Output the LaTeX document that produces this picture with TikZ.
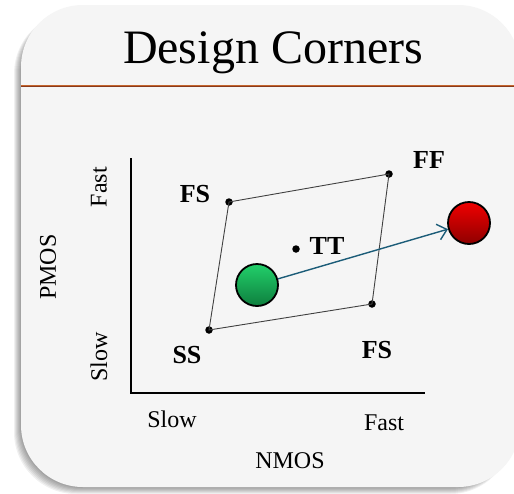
\documentclass[tikz,border=0pt]{standalone}
\usepackage{fontspec}
\setmainfont{Liberation Serif}
\usetikzlibrary{arrows.meta}
\definecolor{cardbg}{HTML}{F5F5F5}
\definecolor{rulecol}{HTML}{C4662E}
\definecolor{rulecore}{HTML}{8A3A1C}
\definecolor{arrowcol}{HTML}{1B5C78}
\definecolor{greentop}{HTML}{22D06A}
\definecolor{greenbot}{HTML}{0E7E3E}
\definecolor{redtop}{HTML}{F00000}
\definecolor{redbot}{HTML}{8E0000}
\tikzset{
  axis/.style={line width=2pt, black},
  edge/.style={line width=0.9pt, black!75},
  corner/.style={circle, fill=black, inner sep=0pt, minimum size=7.5pt},
  clabel/.style={font=\fontsize{26}{28}\selectfont\bfseries, anchor=base},
  alabel/.style={font=\fontsize{24}{27}\selectfont},
  ball/.style={circle, draw=black, line width=1.8pt, minimum size=42pt, inner sep=0pt},
}
\begin{document}
\begin{tikzpicture}[x=1pt, y=-1pt]
\useasboundingbox (0,0) rectangle (514,493);
\fill[white] (0,0) rectangle (514,493);
% soft shadow down and to the left of the card
\foreach \k in {1,...,7}
  \fill[black, opacity=0.06, rounded corners=62pt]
    (21-\k, 12) rectangle (512, 487+\k);
% card
\fill[cardbg, rounded corners=62pt] (21,5) rectangle (520,487);
% title and header rule
\node[font=\fontsize{48}{52}\selectfont, anchor=base] (title) at (273,63) {Design Corners};
\coordinate (ruleL) at (21,86);
\coordinate (ruleR) at (520,86);
\draw[rulecol, line width=2.6pt] (ruleL) -- (ruleR);
\draw[rulecore, line width=0.9pt] (ruleL) -- (ruleR);
% axes
\coordinate (ytop) at (131,158);
\coordinate (origin) at (131,393);
\coordinate (xend) at (425,393);
\draw[axis] (ytop) -- (origin) -- (xend);
% axis labels
\node[alabel, anchor=base] (xslow) at (172,427) {Slow};
\node[alabel, anchor=base] (xfast) at (384,430) {Fast};
\node[alabel, anchor=base] (nmos) at (290,468) {NMOS};
\node[alabel, rotate=90] (yfast) at (99,187) {Fast};
\node[alabel, rotate=90] (pmos) at (48,267) {PMOS};
\node[alabel, rotate=90] (yslow) at (99,357) {Slow};
% process corners
\node[corner] (fsA) at (229,202) {};
\node[corner] (ff) at (389,174) {};
\node[corner] (fsB) at (372,304) {};
\node[corner] (ss) at (209,330) {};
\node[corner] (tt) at (296,249) {};
\draw[edge] (fsA.center) -- (ff.center) -- (fsB.center) -- (ss.center) -- cycle;
\node[clabel] (lfsA) at (195,202) {FS};
\node[clabel] (lff) at (429,168) {FF};
\node[clabel] (ltt) at (327,254) {TT};
\node[clabel] (lfsB) at (377,358) {FS};
\node[clabel] (lss) at (187,363) {SS};
% shift from the green point to the red point
\node[ball, top color=greentop, bottom color=greenbot] (green) at (257,285) {};
\node[ball, top color=redtop, bottom color=redbot] (red) at (469,223) {};
\draw[arrowcol, line width=1.4pt, -{Straight Barb[length=9pt, width=16pt, line width=1.4pt]}] (green) -- (red);
\end{tikzpicture}
\end{document}
